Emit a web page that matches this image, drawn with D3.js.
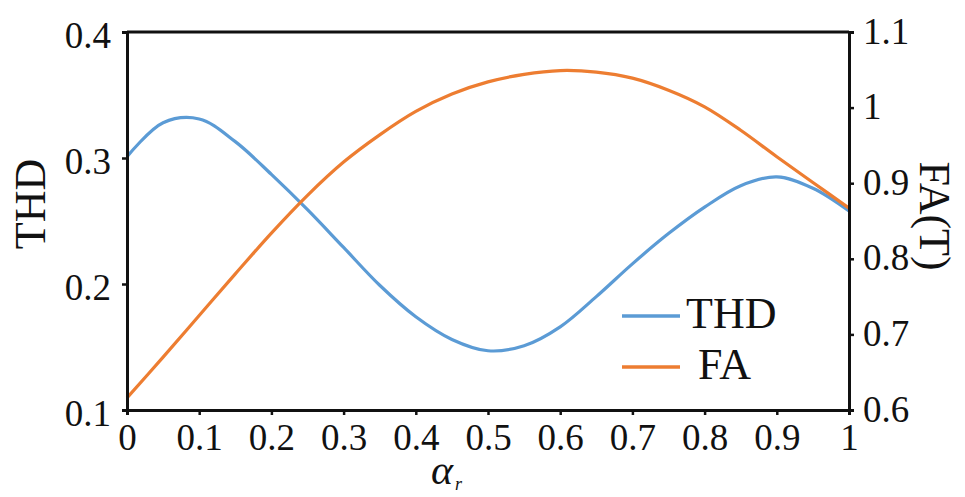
<!DOCTYPE html>
<html><head><meta charset="utf-8">
<script src="https://cdn.jsdelivr.net/npm/d3@7"></script>
<style>
html,body{margin:0;padding:0;background:#fff;}
</style></head>
<body><svg id="c" width="965" height="497"></svg>
<script>
const alphaR = [0,0.05,0.1,0.15,0.2,0.25,0.3,0.35,0.4,0.45,0.5,0.55,0.6,0.65,0.7,0.75,0.8,0.85,0.9,0.95,1.0];
const thd = [0.301,0.328,0.331,0.313,0.287,0.259,0.229,0.199,0.174,0.156,0.147,0.151,0.166,0.190,0.216,0.240,0.261,0.278,0.285,0.276,0.258];
const fa  = [0.616,0.670,0.725,0.780,0.834,0.884,0.928,0.964,0.995,1.018,1.034,1.044,1.049,1.047,1.039,1.023,1.001,0.970,0.935,0.901,0.867];
const xTicks = [0,0.1,0.2,0.3,0.4,0.5,0.6,0.7,0.8,0.9,1];
const xTickLabels = ["0","0.1","0.2","0.3","0.4","0.5","0.6","0.7","0.8","0.9","1"];
const thdTicks = [0.1,0.2,0.3,0.4];
const thdTickLabels = ["0.1","0.2","0.3","0.4"];
const faTicks = [0.6,0.7,0.8,0.9,1.0,1.1];
const faTickLabels = ["0.6","0.7","0.8","0.9","1","1.1"];
const seriesNames = ["THD","FA"];
const colors = ["#5b9bd5","#ed7d31"];

const FONT = "Liberation Serif";
const svg = d3.select("#c");
const L=127, R=849, T=32, B=410;
const x = d3.scaleLinear().domain([0,1]).range([L,R]);
const yL = d3.scaleLinear().domain([0.1,0.4]).range([B,T]);
const yR = d3.scaleLinear().domain([0.6,1.1]).range([B,T]);

const lineL = d3.line().x((d,i)=>x(alphaR[i])).y(d=>yL(d)).curve(d3.curveCatmullRom.alpha(0.5));
const lineR = d3.line().x((d,i)=>x(alphaR[i])).y(d=>yR(d)).curve(d3.curveCatmullRom.alpha(0.5));
svg.append("path").attr("d",lineL(thd)).attr("fill","none").attr("stroke",colors[0]).attr("stroke-width",3.2);
svg.append("path").attr("d",lineR(fa)).attr("fill","none").attr("stroke",colors[1]).attr("stroke-width",3.2);

svg.append("line").attr("x1",L).attr("x2",R).attr("y1",T).attr("y2",T).attr("stroke","#111").attr("stroke-width",3);

const fs = 37;
function styleAxis(g){
  g.attr("font-family",FONT).attr("font-size",fs);
  g.select(".domain").attr("stroke","#111").attr("stroke-width",3);
  g.selectAll(".tick line").attr("stroke","#111").attr("stroke-width",2.5);
  g.selectAll(".tick text").attr("fill","#111");
}
const gx = svg.append("g").attr("transform",`translate(0,${B})`)
  .call(d3.axisBottom(x).tickValues(xTicks).tickFormat((d,i)=>xTickLabels[i]).tickSizeOuter(0).tickSize(5).tickPadding(8));
styleAxis(gx);
gx.selectAll(".tick text").attr("dy","0.71em").attr("y",14);

const gl = svg.append("g").attr("transform",`translate(${L},0)`)
  .call(d3.axisLeft(yL).tickValues(thdTicks).tickFormat((d,i)=>thdTickLabels[i]).tickSizeOuter(0).tickSize(5).tickPadding(11));
styleAxis(gl);
gl.selectAll(".tick text").attr("dy","0.43em");

const gr = svg.append("g").attr("transform",`translate(${R},0)`)
  .call(d3.axisRight(yR).tickValues(faTicks).tickFormat((d,i)=>faTickLabels[i]).tickSizeOuter(0).tickSize(5).tickPadding(9));
styleAxis(gr);
gr.selectAll(".tick text").attr("dy","0.3em");

svg.append("text").attr("transform","translate(45,204) rotate(-90)").attr("text-anchor","middle")
  .attr("font-size",44).attr("font-family",FONT).attr("fill","#111").text("THD");
svg.append("text").attr("transform","translate(920,216) rotate(90)").attr("text-anchor","middle")
  .attr("font-size",44).attr("font-family",FONT).attr("fill","#111").text("FA(T)");
const xt = svg.append("text").attr("x",431).attr("y",484).attr("font-size",42).attr("font-family",FONT).attr("fill","#111");
xt.append("tspan").attr("font-style","italic").text("α");
xt.append("tspan").attr("font-style","italic").attr("font-size",18).attr("dy",6).attr("dx",2).text("r");

const legY = [316,367];
const legTX = [686,698];
seriesNames.forEach((n,i)=>{
  svg.append("line").attr("x1",622).attr("x2",680).attr("y1",legY[i]).attr("y2",legY[i])
    .attr("stroke",colors[i]).attr("stroke-width",3.5);
  svg.append("text").attr("x",legTX[i]).attr("y",legY[i]+12).attr("font-size",44).attr("font-family",FONT).attr("fill","#111").text(n);
});
</script></body></html>
